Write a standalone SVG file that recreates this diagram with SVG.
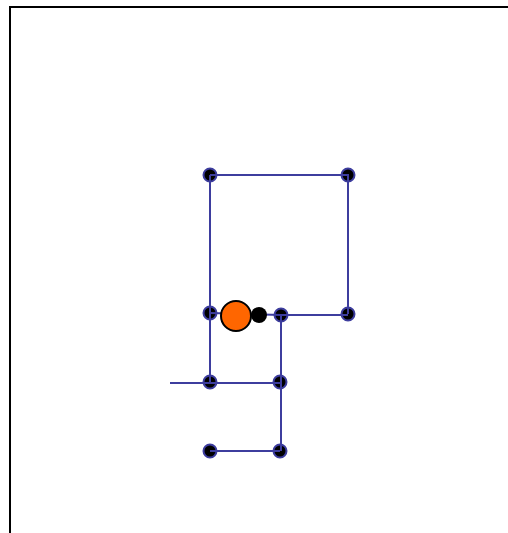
<svg xmlns="http://www.w3.org/2000/svg" width="508" height="533" viewBox="0 0 508 533">
<style>
.node{fill:#000;stroke:#3d3d9e;stroke-width:2}
.edge{stroke:#3d3d9e;stroke-width:2;fill:none}
</style>
<rect x="0" y="0" width="508" height="533" fill="#fff"/>
<path d="M10,533 V7 H508" fill="none" stroke="#000" stroke-width="2"/>
<g id="n1"><circle class="node" cx="210" cy="175" r="6.5"/></g>
<g id="n2"><circle class="node" cx="348" cy="175" r="6.5"/></g>
<g id="n3"><circle class="node" cx="210" cy="313" r="6.5"/></g>
<g id="n4"><circle class="node" cx="348" cy="314" r="6.5"/></g>
<g id="n5"><circle class="node" cx="281" cy="315" r="6.5"/></g>
<g id="n6"><circle class="node" cx="210" cy="382" r="6.5"/></g>
<g id="n7"><circle class="node" cx="280" cy="382" r="6.5"/></g>
<g id="n8"><circle class="node" cx="210" cy="451" r="6.5"/></g>
<g id="n9"><circle class="node" cx="280" cy="451" r="6.5"/></g>
<g id="connectors">
<path class="edge" d="M210,175 H348 V314"/>
<path class="edge" d="M210,175 V382"/>
<path class="edge" d="M210,313 L281,315 H348"/>
<path class="edge" d="M281,315 V451"/>
<path class="edge" d="M170,383 H280"/>
<path class="edge" d="M210,451 H280"/>
</g>
<g id="agent">
<circle cx="259" cy="315" r="8" fill="#000"/>
<circle cx="236" cy="316" r="15" fill="#ff6600" stroke="#000" stroke-width="2"/>
</g>
</svg>
